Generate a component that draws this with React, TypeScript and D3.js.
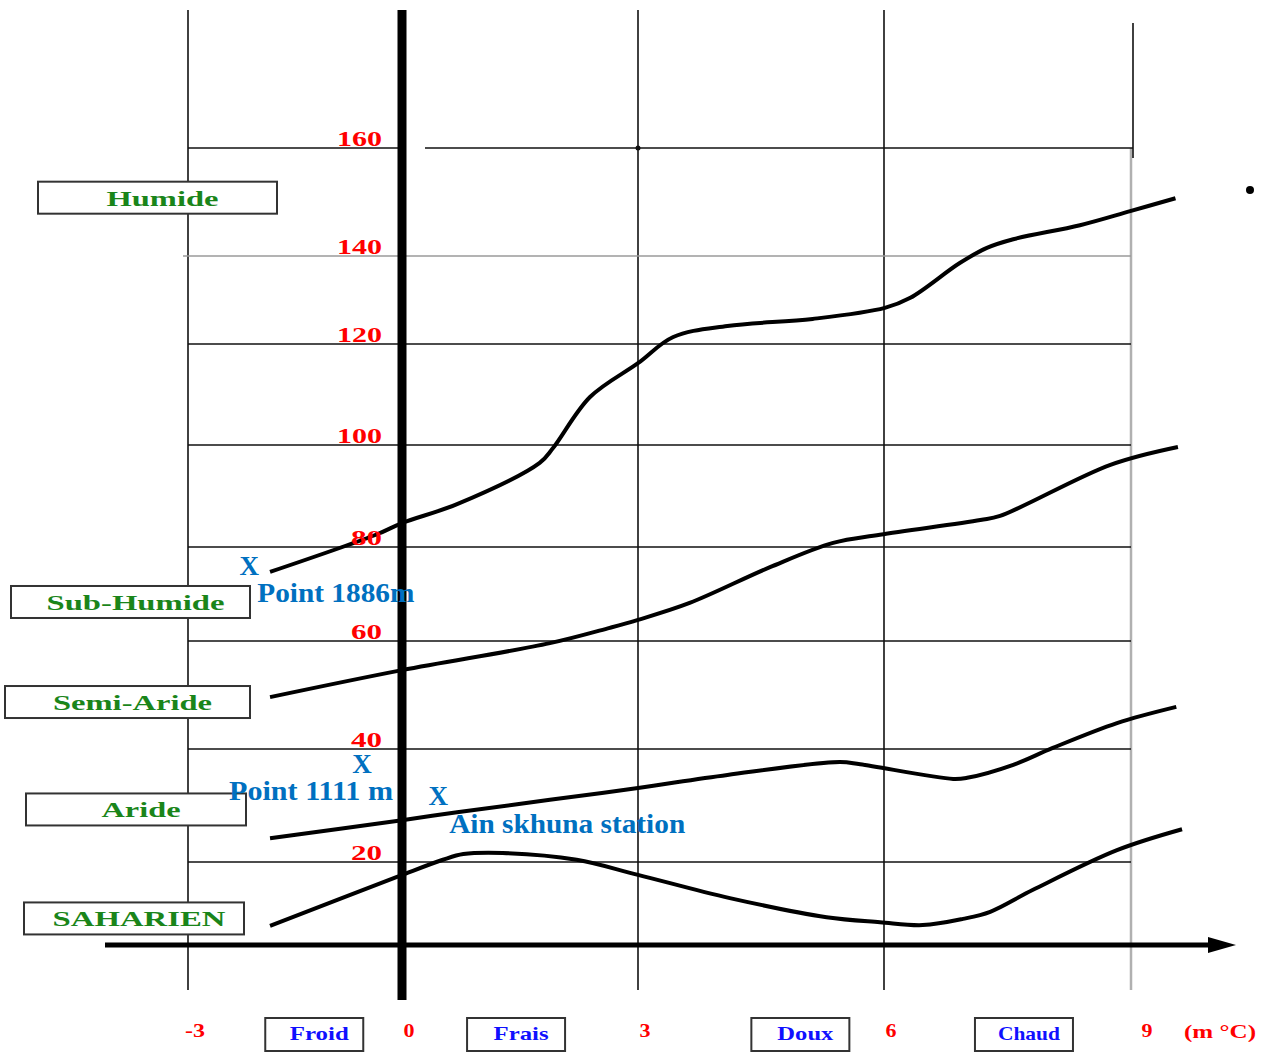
import React, { useEffect } from 'react';
import * as d3 from 'd3';

// axis values (m °C on x, Q2 on y)
const tempTicks = [-3, 0, 3, 6, 9];
const rainTicks = [20, 40, 60, 80, 100, 120, 140, 160];

// bioclimatic limits, [m, Q2]
const limitHumid = [
  [-1.85, 74.7], [-0.35, 82.5], [0, 84.7], [0.7, 88.4], [1.75, 96.5], [1.92, 99.4],
  [2.39, 109.5], [3.0, 116.2], [3.43, 121.6], [4.09, 124.1], [5.13, 125.7], [6.01, 128.2],
  [6.32, 130.5], [6.92, 138.4], [7.25, 141.5], [7.57, 143.1], [8.38, 145.7], [8.99, 148.3], [9.54, 150.7],
];
const limitSubHumid = [
  [-1.85, 49.6], [0, 54.6], [1.88, 59.6], [2.64, 62.8], [3.0, 64.5], [3.63, 68.1],
  [4.61, 75.7], [5.38, 80.8], [5.95, 82.4], [7.17, 85.3], [7.41, 86.1], [8.75, 96.1], [9.57, 99.6],
];
const limitSemiArid = [
  [-1.85, 24.2], [0, 27.4], [0.7, 28.8], [1.88, 31.0], [3.0, 33.1], [4.09, 35.4],
  [5.46, 37.7], [5.71, 37.3], [6.84, 34.7], [7.01, 34.9], [7.57, 37.2], [8.05, 40.2],
  [8.83, 44.8], [9.55, 47.8],
];
const limitArid = [
  [-1.85, 4.6], [-0.07, 16.4], [0.52, 20.4], [0.78, 21.4], [1.28, 21.6], [2.22, 20.4],
  [3.0, 16.9], [4.12, 11.3], [5.3, 6.7], [5.95, 5.5], [6.47, 4.8], [6.96, 6.3], [7.29, 8.0],
  [7.81, 13.3], [8.83, 22.1], [9.62, 25.8],
];
const limits = [limitHumid, limitSubHumid, limitSemiArid, limitArid];

// stations
const stationNames = ['Point 1886m', 'Point 1111 m', 'Ain skhuna station'];
const stationM = [-2.14, -0.56, 0.46];
const stationQ2 = [76.0, 37.3, 31.7];

// bioclimatic stages (label, Q2 at box centre)
const stageNames = ['Humide', 'Sub-Humide', 'Semi-Aride', 'Aride', 'SAHARIEN'];
const stageQ2 = [150.8, 68.3, 48.7, 29.3, 6.4];

// winter variants (label, m at box centre)
const winterNames = ['Froid', 'Frais', 'Doux', 'Chaud'];
const winterM = [-1.23, 1.45, 4.98, 7.7];

const serif = '"Liberation Serif", "Times New Roman", serif';

export default function App() {
  useEffect(() => {
    document.body.style.margin = '0';
  }, []);

  const width = 1267;
  const height = 1053;

  // hand-drawn grid: uneven spacing
  const x = d3.scaleLinear().domain(tempTicks).range([188, 402, 638, 884, 1131]);
  const y = d3.scaleLinear()
    .domain([0, ...rainTicks])
    .range([945, 862, 749, 641, 547, 445, 344, 256, 148]);

  const line = d3.line<number[]>()
    .x(d => x(d[0]))
    .y(d => y(d[1]))
    .curve(d3.curveCatmullRom.alpha(0.5));

  const x0 = x(0);
  const gridRight = x(9);
  const gridColor = '#111';

  // layout for stage boxes (left edge, width) and label widths
  const stageBox = [[38, 239], [11, 239], [5, 245], [26, 220], [24, 220]];
  const stageText = [112, 178, 159, 79, 173];
  const winterText = [59, 55, 56, 62];
  const stationLabel = [
    { dx: 8, dy: 36, anchor: 'start', len: 157 },
    { dx: 31, dy: 36, anchor: 'end', len: 164 },
    { dx: 11, dy: 37, anchor: 'start', len: 236 },
  ];

  return (
    <svg width={width} height={height} style={{ display: 'block', background: '#fff' }}>
      {/* vertical grid */}
      {tempTicks.filter(t => t !== 0).map(t => (
        <line key={'v' + t} x1={x(t)} x2={x(t)} y1={t === 9 ? y(160) : 10} y2={990}
          stroke={t === 9 ? '#b0b0b0' : gridColor} strokeWidth={t === 9 ? 2.5 : 1.6} />
      ))}
      <line x1={x(9) + 2} x2={x(9) + 2} y1={23} y2={y(160) + 10} stroke={gridColor} strokeWidth={1.6} />

      {/* horizontal grid */}
      {rainTicks.map(v => {
        if (v === 160) {
          return (
            <g key={'h' + v}>
              <line x1={x(-3)} x2={x0} y1={y(v)} y2={y(v)} stroke={gridColor} strokeWidth={1.6} />
              <line x1={x0 + 23} x2={gridRight + 2} y1={y(v)} y2={y(v)} stroke={gridColor} strokeWidth={1.6} />
            </g>
          );
        }
        return (
          <line key={'h' + v} x1={v === 140 ? x(-3) - 5 : x(-3)} x2={gridRight} y1={y(v)} y2={y(v)}
            stroke={v === 140 ? '#9a9a9a' : gridColor} strokeWidth={1.6} />
        );
      })}
      <circle cx={x(3)} cy={y(160)} r={2.5} fill="#111" />

      {/* x axis with arrow */}
      <line x1={105} x2={1215} y1={y(0)} y2={y(0)} stroke="#000" strokeWidth={5} />
      <path d={`M1208,${y(0) - 8}L1236,${y(0)}L1208,${y(0) + 8}Z`} fill="#000" />

      {/* thick y axis at m = 0 */}
      <line x1={x0} x2={x0} y1={10} y2={1000} stroke="#000" strokeWidth={9} />

      {/* limit curves */}
      {limits.map((c, i) => (
        <path key={'c' + i} d={line(c) || ''} fill="none" stroke="#000" strokeWidth={4} />
      ))}

      {/* y tick labels */}
      {rainTicks.map(v => {
        const s = String(v);
        return (
          <text key={'yl' + v} x={x0 - 20} y={y(v) - 2} textAnchor="end" fill="#ff0000"
            fontFamily={serif} fontWeight="bold" fontSize={20}
            textLength={s.length === 3 ? 45 : 31} lengthAdjust="spacingAndGlyphs">{s}</text>
        );
      })}

      {/* x tick labels */}
      {tempTicks.map(t => {
        const s = String(t);
        return (
          <text key={'xl' + t} x={x(t) + (t === 9 ? 16 : 7)} y={1037} textAnchor="middle" fill="#ff0000"
            fontFamily={serif} fontWeight="bold" fontSize={19}
            textLength={s.length === 2 ? 20 : 11} lengthAdjust="spacingAndGlyphs">{s}</text>
        );
      })}
      <text x={1184} y={1038} fill="#ff0000" fontFamily={serif} fontWeight="bold" fontSize={19}
        textLength={72} lengthAdjust="spacingAndGlyphs">(m °C)</text>

      {/* winter variant boxes */}
      {winterNames.map((n, i) => {
        const cx = x(winterM[i]);
        return (
          <g key={n}>
            <rect x={cx - 49} y={1018} width={98} height={33} fill="#fff" stroke="#333" strokeWidth={2} />
            <text x={cx + 5} y={1040} textAnchor="middle" fill="#1010ff" fontFamily={serif}
              fontWeight="bold" fontSize={19} textLength={winterText[i]} lengthAdjust="spacingAndGlyphs">{n}</text>
          </g>
        );
      })}

      {/* stage boxes */}
      {stageNames.map((n, i) => {
        const cy = y(stageQ2[i]);
        const [bx, bw] = stageBox[i];
        return (
          <g key={n}>
            <rect x={bx} y={cy - 16} width={bw} height={32} fill="#fff" stroke="#333" strokeWidth={2} />
            <text x={bx + bw / 2 + 5} y={cy + 8} textAnchor="middle" fill="#1a851a" fontFamily={serif}
              fontWeight="bold" fontSize={21} textLength={stageText[i]} lengthAdjust="spacingAndGlyphs">{n}</text>
          </g>
        );
      })}

      {/* stations */}
      {stationNames.map((n, i) => {
        const sx = x(stationM[i]);
        const sy = y(stationQ2[i]);
        const l = stationLabel[i];
        return (
          <g key={n} fill="#0070c0" fontFamily={serif} fontWeight="bold">
            <text x={sx} y={sy + 9} textAnchor="middle" fontSize={27}>X</text>
            <text x={sx + l.dx} y={sy + l.dy} textAnchor={l.anchor} fontSize={28}
              textLength={l.len} lengthAdjust="spacingAndGlyphs">{n}</text>
          </g>
        );
      })}

      <circle cx={1250} cy={190} r={4} fill="#000" />
    </svg>
  );
}
